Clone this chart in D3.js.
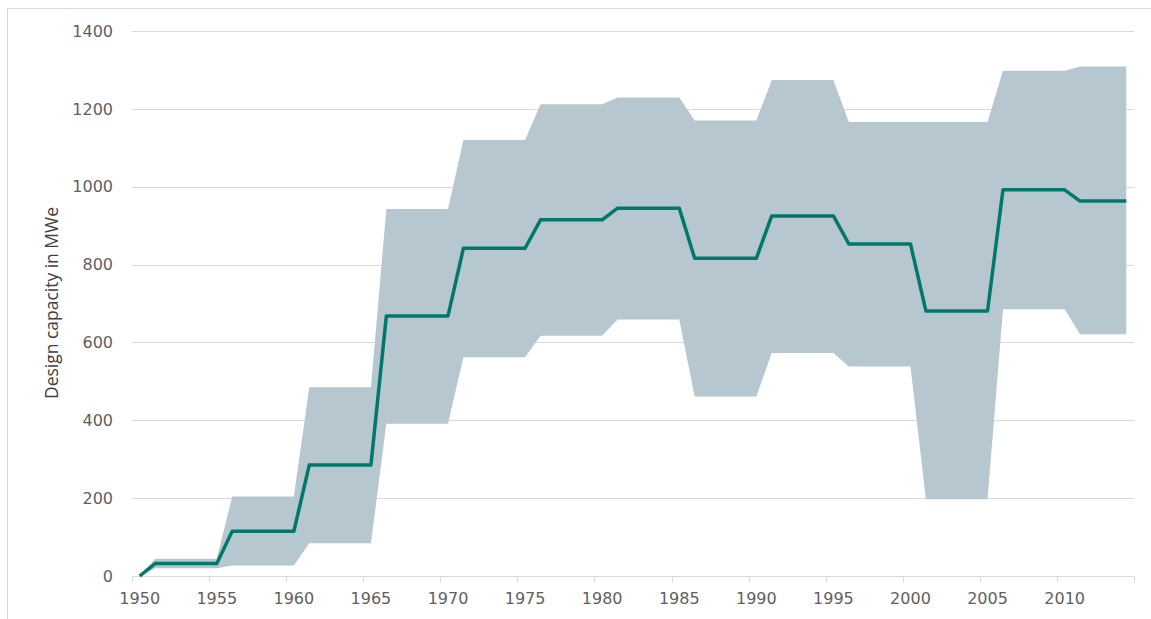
<!DOCTYPE html>
<html>
<head>
<meta charset="utf-8">
<script src="https://cdn.jsdelivr.net/npm/d3@7"></script>
<style>
  html, body { margin: 0; padding: 0; background: #fff; }
  svg { display: block; }
</style>
</head>
<body>
<svg id="chart" width="1151" height="619"></svg>
<script>
const years = d3.range(1950, 2015);
const meanValues = [
  0,
  32, 32, 32, 32, 32,
  115, 115, 115, 115, 115,
  285, 285, 285, 285, 285,
  668, 668, 668, 668, 668,
  842, 842, 842, 842, 842,
  915, 915, 915, 915, 915,
  945, 945, 945, 945, 945,
  816, 816, 816, 816, 816,
  925, 925, 925, 925, 925,
  853, 853, 853, 853, 853,
  681, 681, 681, 681, 681,
  992, 992, 992, 992, 992,
  963, 963, 963, 963
];
const upperValues = [
  0,
  44, 44, 44, 44, 44,
  204, 204, 204, 204, 204,
  485, 485, 485, 485, 485,
  943, 943, 943, 943, 943,
  1120, 1120, 1120, 1120, 1120,
  1212, 1212, 1212, 1212, 1212,
  1229, 1229, 1229, 1229, 1229,
  1170, 1170, 1170, 1170, 1170,
  1274, 1274, 1274, 1274, 1274,
  1166, 1166, 1166, 1166, 1166,
  1166, 1166, 1166, 1166, 1166,
  1298, 1298, 1298, 1298, 1298,
  1309, 1309, 1309, 1309
];
const lowerValues = [
  0,
  20, 20, 20, 20, 20,
  27, 27, 27, 27, 27,
  84, 84, 84, 84, 84,
  391, 391, 391, 391, 391,
  562, 562, 562, 562, 562,
  617, 617, 617, 617, 617,
  659, 659, 659, 659, 659,
  461, 461, 461, 461, 461,
  573, 573, 573, 573, 573,
  538, 538, 538, 538, 538,
  197, 197, 197, 197, 197,
  685, 685, 685, 685, 685,
  621, 621, 621, 621
];
const yTicks = [0, 200, 400, 600, 800, 1000, 1200, 1400];
const xTickLabels = [1950, 1955, 1960, 1965, 1970, 1975, 1980, 1985, 1990, 1995, 2000, 2005, 2010];
const yTitle = "Design capacity in MWe";

(function () {
const svg = d3.select("#chart");
const pLeft = 132, pRight = 1134, pTop = 31, pBottom = 576;

const x = d3.scaleBand().domain(years).range([pLeft, pRight]).padding(0);
const y = d3.scaleLinear().domain([0, 1400]).range([pBottom, pTop]);
const cx = yr => x(yr) + x.bandwidth() / 2;

const textColor = "#5f5f5f";
const gridColor = "#d9d9d9";

// chart border
svg.append("rect")
  .attr("x", 7.5).attr("y", 8.5)
  .attr("width", 1160).attr("height", 620)
  .attr("fill", "none").attr("stroke", "#d9d9d9").attr("stroke-width", 1);

// gridlines
svg.append("g").selectAll("line")
  .data(yTicks.filter(d => d !== 0))
  .join("line")
  .attr("x1", pLeft).attr("x2", pRight)
  .attr("y1", d => Math.round(y(d)) + 0.5).attr("y2", d => Math.round(y(d)) + 0.5)
  .attr("stroke", gridColor).attr("stroke-width", 1);

const data = years.map((yr, i) => ({ yr, mean: meanValues[i], hi: upperValues[i], lo: lowerValues[i] }));

// band
svg.append("path")
  .datum(data)
  .attr("fill", "#b7c7d0")
  .attr("d", d3.area().x(d => cx(d.yr)).y0(d => y(d.lo)).y1(d => y(d.hi)));

// x axis line
svg.append("line")
  .attr("x1", pLeft).attr("x2", pRight)
  .attr("y1", pBottom + 0.5).attr("y2", pBottom + 0.5)
  .attr("stroke", gridColor).attr("stroke-width", 1);

// x ticks at category boundaries every 5 years + end
const tickPos = xTickLabels.map(d => x(d)).concat([pRight]);
svg.append("g").selectAll("line")
  .data(tickPos)
  .join("line")
  .attr("x1", d => Math.round(d) + 0.5).attr("x2", d => Math.round(d) + 0.5)
  .attr("y1", pBottom).attr("y2", pBottom + 6)
  .attr("stroke", gridColor).attr("stroke-width", 1);

// mean line
svg.append("path")
  .datum(data)
  .attr("fill", "none")
  .attr("stroke", "#00796b")
  .attr("stroke-width", 3.5)
  .attr("stroke-linejoin", "round")
  .attr("d", d3.line().x(d => cx(d.yr)).y(d => y(d.mean)));

// x labels
svg.append("g").selectAll("text")
  .data(xTickLabels)
  .join("text")
  .attr("x", d => cx(d))
  .attr("y", 604)
  .attr("text-anchor", "middle")
  .attr("font-family", "DejaVu Sans, sans-serif")
  .attr("font-size", 16)
  .attr("fill", textColor)
  .text(d => d);

// y labels
svg.append("g").selectAll("text")
  .data(yTicks)
  .join("text")
  .attr("x", 113)
  .attr("y", d => y(d))
  .attr("dy", "0.36em")
  .attr("text-anchor", "end")
  .attr("font-family", "DejaVu Sans, sans-serif")
  .attr("font-size", 16)
  .attr("fill", textColor)
  .text(d => d);

// y title
const t = svg.append("text")
  .attr("transform", "translate(58,303) rotate(-90)")
  .attr("text-anchor", "middle")
  .attr("font-family", "Open Sans, sans-serif")
  .attr("font-size", 16)
  .attr("fill", "#404040")
  .text(yTitle);
const len = t.node().getComputedTextLength();
if (len > 0) t.attr("font-size", 16 * 192 / len);
})();
</script>
</body>
</html>
